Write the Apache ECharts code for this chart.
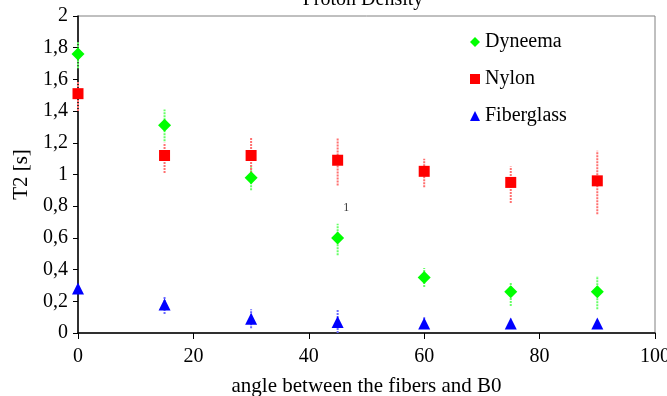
<!DOCTYPE html>
<html>
<head>
<meta charset="utf-8">
<script src="https://cdn.jsdelivr.net/npm/echarts@6/dist/echarts.min.js"></script>
<style>
html, body { margin: 0; padding: 0; background: #fff; }
#main { width: 667px; height: 396px; }
</style>
</head>
<body>
<div id="main"></div>
<script>
// angles (x) and T2 values with error ranges
var angles = [0, 15, 30, 45, 60, 75, 90];

var dyneema = [1.76, 1.31, 0.98, 0.60, 0.35, 0.26, 0.26];
var dyneemaLow = [1.67, 1.21, 0.90, 0.49, 0.29, 0.17, 0.15];
var dyneemaHigh = [1.84, 1.41, 1.06, 0.69, 0.41, 0.32, 0.36];

var nylon = [1.51, 1.12, 1.12, 1.09, 1.02, 0.95, 0.96];
var nylonLow = [1.40, 1.01, 1.01, 0.93, 0.92, 0.82, 0.75];
var nylonHigh = [1.59, 1.20, 1.23, 1.23, 1.10, 1.05, 1.15];

var fiber = [0.28, 0.18, 0.09, 0.07, 0.06, 0.06, 0.06];
var fiberLow = [0.26, 0.12, 0.03, 0.00, 0.03, 0.03, 0.04];
var fiberHigh = [0.30, 0.23, 0.15, 0.15, 0.10, 0.09, 0.08];

var yTicks = [0, 0.2, 0.4, 0.6, 0.8, 1, 1.2, 1.4, 1.6, 1.8, 2];
var strayLabel = [[46.5, 0.79, '1']];

var myChart = echarts.init(document.getElementById('main'));

function pts(vals) {
    return angles.map(function (a, i) { return [a, vals[i]]; });
}
function errs(lo, hi) {
    return angles.map(function (a, i) { return [a, lo[i], hi[i]]; });
}
// vertical error bar drawn through the axes
function errSeries(name, lo, hi, color) {
    return {
        type: 'custom',
        name: name + ' err',
        data: errs(lo, hi),
        z: 1,
        silent: true,
        renderItem: function (params, api) {
            var p1 = api.coord([api.value(0), api.value(1)]);
            var p2 = api.coord([api.value(0), api.value(2)]);
            return {
                type: 'line',
                shape: { x1: p1[0], y1: p1[1], x2: p2[0], y2: p2[1] },
                style: { stroke: color, lineWidth: 2, lineDash: [2, 1] }
            };
        }
    };
}

var serif = 'Liberation Serif';

var option = {
    animation: false,
    textStyle: { fontFamily: serif },
    title: {
        text: 'Proton Density',
        left: 358,
        top: -15,
        textAlign: 'center',
        textStyle: { fontFamily: serif, fontSize: 20, fontWeight: 'normal', color: '#000' }
    },
    legend: {
        orient: 'vertical',
        left: 465,
        top: 27,
        itemGap: 17,
        itemWidth: 10,
        itemHeight: 10,
        data: ['Dyneema', 'Nylon', 'Fiberglass'],
        textStyle: { fontFamily: serif, fontSize: 20, color: '#000' }
    },
    grid: {
        left: 78,
        right: 12,
        top: 16,
        bottom: 63,
        outerBoundsMode: 'none',
        show: true,
        borderColor: '#808080',
        borderWidth: 1
    },
    xAxis: {
        type: 'value',
        min: 0,
        max: 100,
        interval: 20,
        name: 'angle between the fibers and B0',
        nameLocation: 'middle',
        nameGap: 43,
        nameTextStyle: { fontFamily: serif, fontSize: 21, color: '#000' },
        axisLine: { lineStyle: { color: '#000', width: 1.5 } },
        axisTick: { show: true, length: 6, lineStyle: { color: '#000' } },
        axisLabel: { fontFamily: serif, fontSize: 20, color: '#000', margin: 14 },
        splitLine: { show: false }
    },
    yAxis: {
        type: 'value',
        min: 0,
        max: 2,
        interval: 0.2,
        name: 'T2 [s]',
        nameLocation: 'middle',
        nameGap: 42,
        nameTextStyle: { fontFamily: serif, fontSize: 21, color: '#000' },
        axisLine: { show: true, lineStyle: { color: '#000', width: 1.5 } },
        axisTick: { show: true, length: 5, lineStyle: { color: '#000' } },
        axisLabel: {
            fontFamily: serif, fontSize: 20, color: '#000', margin: 10,
            formatter: function (v) {
                var t = yTicks.filter(function (x) { return Math.abs(x - v) < 1e-6; })[0];
                return String(+((t !== undefined ? t : v).toFixed(1))).replace('.', ',');
            }
        },
        splitLine: { show: false }
    },
    series: [
        errSeries('Dyneema', dyneemaLow, dyneemaHigh, '#66ff66'),
        errSeries('Nylon', nylonLow, nylonHigh, '#ff7070'),
        errSeries('Fiberglass', fiberLow, fiberHigh, '#6a6aff'),
        {
            type: 'scatter', name: 'Dyneema', data: pts(dyneema),
            symbol: 'diamond', symbolSize: 13, z: 3,
            itemStyle: { color: '#00ff00', opacity: 1 }
        },
        {
            type: 'scatter', name: 'Nylon', data: pts(nylon),
            symbol: 'rect', symbolSize: 11, z: 3,
            itemStyle: { color: '#ff0000', opacity: 1 }
        },
        {
            type: 'scatter', name: 'Fiberglass', data: pts(fiber),
            symbol: 'triangle', symbolSize: 12, z: 3,
            itemStyle: { color: '#0000ff', opacity: 1 }
        },
        {
            type: 'scatter', name: 'note', data: strayLabel,
            symbolSize: 0, silent: true,
            label: {
                show: true, position: 'inside',
                formatter: function (p) { return p.data[2]; },
                fontFamily: serif, fontSize: 12, color: '#000'
            }
        }
    ]
};

myChart.setOption(option);
</script>
</body>
</html>
